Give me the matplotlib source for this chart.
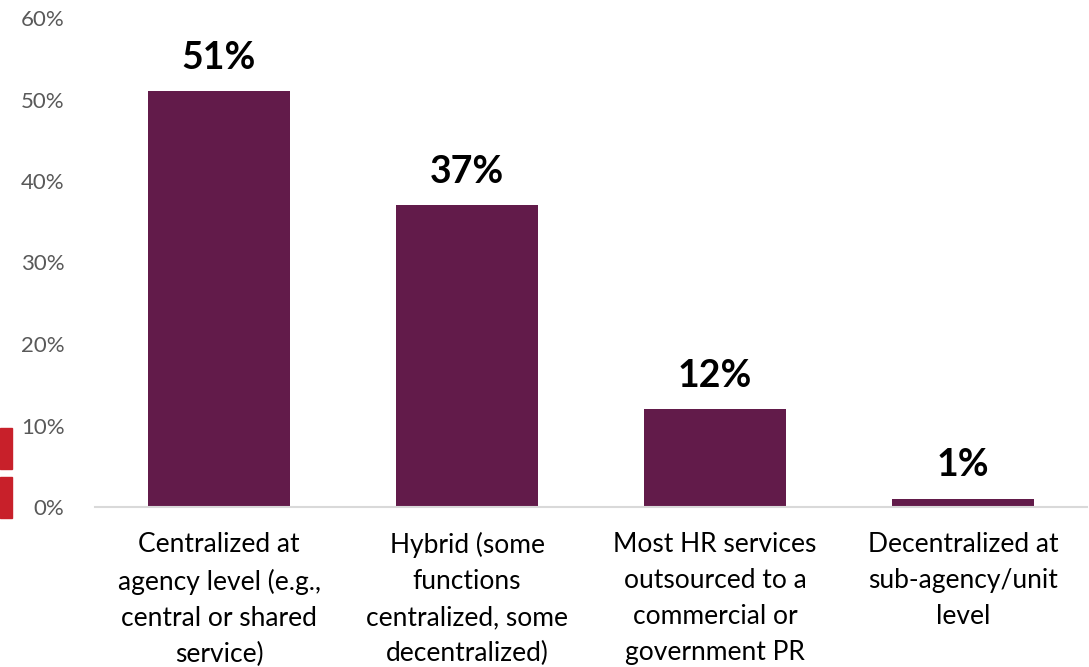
import matplotlib.pyplot as plt
from matplotlib.patches import Rectangle

categories = [
    'Centralized at\nagency level (e.g.,\ncentral or shared\nservice)',
    'Hybrid (some\nfunctions\ncentralized, some\ndecentralized)',
    'Most HR services\noutsourced to a\ncommercial or\ngovernment PR',
    'Decentralized at\nsub-agency/unit\nlevel',
]
shares = [51, 37, 12, 1]
yticks = [0, 10, 20, 30, 40, 50, 60]

plt.rcParams['font.family'] = ['Lato', 'DejaVu Sans']

fig = plt.figure(figsize=(10.89, 6.67), dpi=100)
ax = fig.add_axes([95 / 1089, 1 - 507 / 667, 992 / 1089, 489 / 667])

x = range(len(categories))
ax.bar(x, shares, width=0.57, color='#621B4A', zorder=2)

for xi, v in zip(x, shares):
    ax.annotate(f'{v}%', (xi, v), xytext=(0, 12), textcoords='offset points',
                ha='center', va='bottom', fontsize=27, fontweight='bold', color='black')

ax.set_xlim(-0.5, len(categories) - 0.5)
ax.set_ylim(0, 60)
ax.set_yticks(yticks)
ax.set_yticklabels([f'{t}%' for t in yticks], fontsize=16, color='#595959')
ax.set_xticks(list(x))
ax.set_xticklabels(categories, fontsize=19, color='black', linespacing=1.55, va='top')
ax.tick_params(axis='both', length=0)
ax.tick_params(axis='x', pad=18)
ax.tick_params(axis='y', pad=22)

for side in ['top', 'right', 'left']:
    ax.spines[side].set_visible(False)
ax.spines['bottom'].set_color('#D9D9D9')
ax.spines['bottom'].set_linewidth(1.5)

# red tab marks on the left edge
for y0, h in [(1 - 469 / 667, 41 / 667), (1 - 518 / 667, 41 / 667)]:
    fig.patches.append(Rectangle((0, y0), 11.5 / 1089, h, transform=fig.transFigure,
                                 color='#C8202A', zorder=5))

fig.savefig('out.png', dpi=100)
